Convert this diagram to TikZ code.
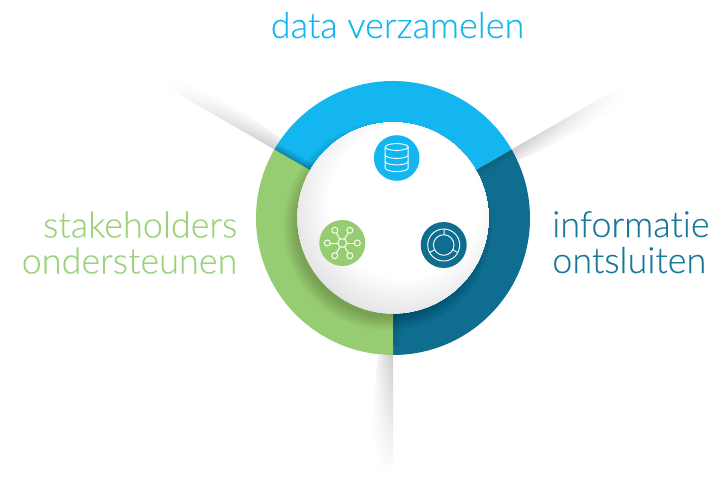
\documentclass[tikz,border=0pt]{standalone}
\usepackage{fontspec}
\setmainfont{Lato Light}[FakeBold=0.25,Ligatures=NoCommon]
\usetikzlibrary{fadings}
\definecolor{cblue}{HTML}{13B6EE}
\definecolor{cteal}{HTML}{0F6E8F}
\definecolor{cgreen}{HTML}{97CD72}
\definecolor{tteal}{HTML}{17789A}
\definecolor{tgreen}{HTML}{9DD27C}
\definecolor{raygray}{HTML}{CCCCCC}
\definecolor{ballgray}{HTML}{E3E3E3}
\tikzfading[name=alongfade,left color=transparent!0,right color=transparent!100]
\tikzfading[name=edgefade,top color=transparent!0,bottom color=transparent!100]
\tikzfading[name=edgefaderev,top color=transparent!100,bottom color=transparent!0]
\tikzset{
  label text/.style={font=\fontsize{27}{32}\selectfont,inner sep=0pt},
  icon line/.style={draw=white,line width=0.7pt},
}
\begin{document}
\begin{tikzpicture}[x=0.75pt,y=0.75pt]
\useasboundingbox (0,0) rectangle (713,476);
\coordinate (C) at (393,258);
% rays
\newcommand\rayat[4]{%
  \begin{scope}[transform canvas={shift={(#1)},rotate=#2}]
    \shade[top color=raygray,middle color=raygray!80,bottom color=white,path fading=alongfade]
      (0,0) -- (#3,0) -- (#3,-#4) .. controls (#3*0.5,-#4) and (#3*0.25,-#4*0.9) .. (0,-#4*0.7) -- cycle;
  \end{scope}}
\rayat{274.4,326.5}{150}{124}{18}
\rayat{511.6,326.5}{30}{124}{18}
\rayat{393,121}{-90}{121}{21}
% ring
\fill[cblue] (C) ++(30:137) arc[start angle=30,end angle=150,radius=137] -- (C) -- cycle;
\fill[cteal] (C) ++(-90:137) arc[start angle=-90,end angle=30,radius=137] -- (C) -- cycle;
\fill[cgreen] (C) ++(150:137) arc[start angle=150,end angle=270,radius=137] -- (C) -- cycle;
% shadows on the ring
\begin{scope}
  \clip (C) circle[radius=137];
  \foreach \r in {90,91,...,105}{
    \fill[black,opacity=.011] (388,250) circle[radius=\r];
  }
  \begin{scope}[transform canvas={shift={(C)},rotate=150}]
    \fill[black,opacity=.28,path fading=edgefade] (90,0) rectangle (140,-8);
  \end{scope}
  \begin{scope}[transform canvas={shift={(C)},rotate=30}]
    \fill[black,opacity=.10,path fading=edgefade] (90,0) rectangle (140,-8);
  \end{scope}
  \begin{scope}[transform canvas={shift={(C)},rotate=-90}]
    \fill[black,opacity=.12,path fading=edgefaderev] (90,0) rectangle (128,9);
  \end{scope}
\end{scope}
% central ball
\begin{scope}
  \clip (C) circle[radius=95.5];
  \fill[ballgray] (C) circle[radius=95.5];
  \foreach \r in {116,115,...,74}{
    \pgfmathsetmacro\mixp{min(100,(116-\r)*2.5)}
    \fill[white!\mixp!ballgray] (405,273) circle[radius=\r];
  }
\end{scope}
% database icon
\fill[cblue] (396.7,318) circle[radius=22.8];
\draw[icon line] (396.7,329) ellipse[x radius=11.5,y radius=3.4];
\draw[icon line] (385.2,329) -- (385.2,308) arc[start angle=180,end angle=360,x radius=11.5,y radius=3.6] -- (408.2,329);
\draw[icon line] (385.2,321) arc[start angle=180,end angle=360,x radius=11.5,y radius=3.4];
\draw[icon line] (385.2,314.5) arc[start angle=180,end angle=360,x radius=11.5,y radius=3.4];
% network icon
\fill[cgreen] (342.3,233) circle[radius=23];
\begin{scope}[shift={(342.3,233)}]
  \draw[icon line] (0,0) circle[radius=4.4];
  \foreach \x/\y in {15/0,-15/0,7.5/12.7,-7.5/12.7,7.5/-12.7,-7.5/-12.7}{
    \draw[icon line] (\x,\y) circle[radius=3];
    \draw[icon line,shorten <=3pt,shorten >=2.2pt] (0,0) -- (\x,\y);
  }
\end{scope}
% donut icon
\fill[cteal] (443.7,231) circle[radius=23];
\begin{scope}[shift={(443.7,231)}]
  \draw[icon line] (0,0) circle[radius=16];
  \draw[icon line] (0,0) circle[radius=10.3];
  \foreach \a in {88,208,332}{ \draw[icon line] (\a:10.3) -- (\a:16); }
\end{scope}
% labels
\node[label text,text=cblue,anchor=base] (t1) at (397.5,438) {data verzamelen};
\node[label text,text=tgreen,anchor=base east] (t2) at (237.5,238.5) {stakeholders};
\node[label text,text=tgreen,anchor=base east] (t3) at (237.5,202.5) {ondersteunen};
\node[label text,text=tteal,anchor=base west] (t4) at (552,239) {informatie};
\node[label text,text=tteal,anchor=base west] (t5) at (552,203) {ontsluiten};
\end{tikzpicture}
\end{document}
